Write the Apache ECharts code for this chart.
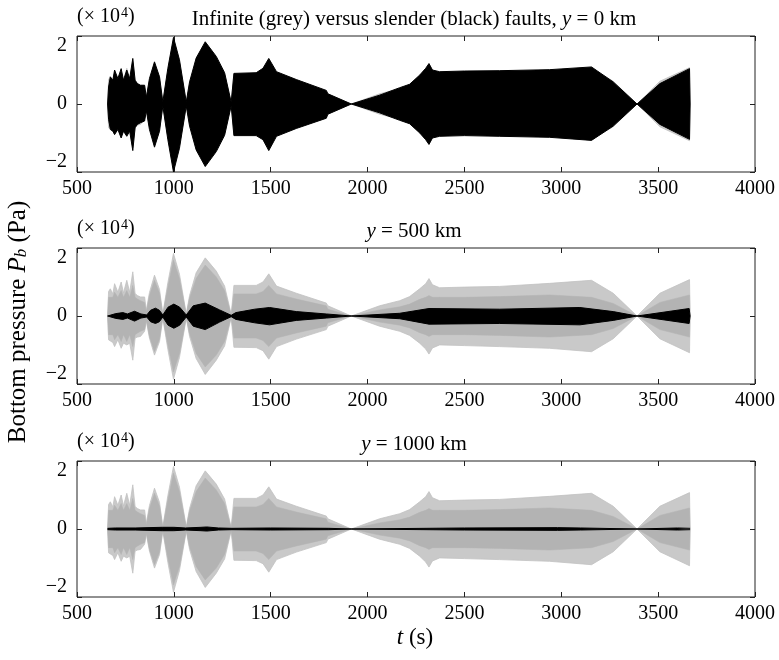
<!DOCTYPE html>
<html>
<head>
<meta charset="utf-8">
<script src="https://cdn.jsdelivr.net/npm/echarts@6/dist/echarts.min.js"></script>
<style>
html,body{margin:0;padding:0;background:#fff;}
#main{width:779px;height:660px;}
</style>
</head>
<body>
<div id="main"></div>
<script>
// infinite fault (grey): envelope of the oscillation, same in all three panels
var tGrey    = [658, 663, 672, 685, 694, 711, 728, 740, 757, 772, 788, 800, 812, 828, 849, 858, 874, 900, 926, 943, 969, 998, 1029, 1064, 1081, 1115, 1162, 1219, 1262, 1296, 1310, 1425, 1460, 1490, 1530, 1632, 1787, 1795, 1805, 1916, 2062, 2166, 2217, 2269, 2300, 2317, 2335, 2372, 2500, 2682, 2940, 3156, 3268, 3391, 3509, 3662, 3665];
var greyUp   = [0, 0.72, 0.8, 0.65, 0.95, 0.7, 1.0, 0.68, 1.05, 0.7, 1.3, 0.66, 0.6, 0.56, 0.56, 0.17, 0.69, 1.2, 0.78, 0.06, 0.98, 1.84, 1.23, 0.06, 0.6, 1.27, 1.71, 1.32, 0.88, 0.05, 0.9, 0.9, 1.0, 1.24, 0.88, 0.67, 0.38, 0.3, 0.27, 0, 0.3, 0.45, 0.57, 0.8, 0.95, 1.1, 0.92, 0.83, 0.85, 0.87, 0.96, 1.05, 0.67, 0, 0.67, 1.07, 0];
var greyLo   = [0, -0.7, -0.72, -0.78, -0.9, -0.7, -0.95, -0.8, -0.85, -0.8, -1.3, -0.65, -0.62, -0.6, -0.45, -0.15, -0.65, -1.15, -0.75, -0.06, -0.98, -1.86, -1.22, -0.06, -0.6, -1.25, -1.72, -1.3, -0.88, -0.05, -0.92, -0.93, -1.02, -1.27, -0.9, -0.68, -0.4, -0.3, -0.27, 0, -0.3, -0.45, -0.57, -0.8, -0.97, -1.12, -0.94, -0.85, -0.87, -0.9, -0.95, -1.05, -0.67, 0, -0.67, -1.08, 0];
// dense inner core of the grey trace (symmetric)
var greyCore = [0, 0.55, 0.6, 0.55, 0.7, 0.55, 0.75, 0.55, 0.75, 0.55, 0.9, 0.55, 0.5, 0.45, 0.4, 0.12, 0.6, 1.05, 0.68, 0.05, 0.85, 1.65, 1.1, 0.05, 0.52, 1.1, 1.5, 1.15, 0.75, 0.03, 0.65, 0.65, 0.72, 0.9, 0.65, 0.5, 0.3, 0.2, 0.18, 0, 0.18, 0.27, 0.35, 0.49, 0.55, 0.6, 0.55, 0.55, 0.55, 0.57, 0.62, 0.55, 0.37, 0, 0.4, 0.62, 0];

// slender fault (black), y = 0 km
var tBlack0  = [658, 663, 672, 685, 694, 711, 728, 740, 757, 772, 788, 800, 812, 828, 849, 858, 874, 900, 926, 943, 969, 998, 1029, 1064, 1081, 1115, 1162, 1219, 1262, 1296, 1310, 1425, 1460, 1490, 1530, 1632, 1787, 1795, 1805, 1916, 2062, 2166, 2217, 2269, 2300, 2317, 2335, 2372, 2500, 2682, 2940, 3156, 3268, 3391, 3509, 3662, 3665];
var black0Up = [0, 0.5, 0.8, 0.7, 1.0, 0.75, 1.04, 0.7, 1.0, 0.75, 1.34, 0.7, 0.6, 0.55, 0.55, 0.2, 0.75, 1.24, 0.8, 0.06, 1.05, 1.96, 1.3, 0.06, 0.65, 1.35, 1.83, 1.4, 0.92, 0.05, 0.9, 0.92, 1.05, 1.34, 0.95, 0.72, 0.4, 0.3, 0.25, 0, 0.26, 0.48, 0.58, 0.85, 1.05, 1.19, 1.0, 0.95, 0.97, 0.98, 1.01, 1.09, 0.65, 0, 0.6, 1.04, 0];
var black0Lo = [0, -0.45, -0.75, -0.8, -0.9, -0.75, -1.0, -0.8, -0.95, -0.8, -1.37, -0.7, -0.6, -0.55, -0.5, -0.2, -0.75, -1.27, -0.8, -0.06, -1.05, -2.0, -1.3, -0.06, -0.65, -1.35, -1.84, -1.4, -0.92, -0.05, -0.93, -0.93, -1.05, -1.37, -0.95, -0.72, -0.42, -0.3, -0.25, 0, -0.26, -0.48, -0.58, -0.85, -1.05, -1.19, -1.0, -0.95, -0.93, -0.95, -0.98, -1.07, -0.65, 0, -0.6, -1.04, 0];

// y = 500 km
var tBlack1  = [658, 664, 700, 737, 760, 797, 830, 860, 880, 905, 925, 943, 970, 1000, 1030, 1064, 1100, 1162, 1236, 1296, 1320, 1417, 1494, 1632, 1787, 1916, 2166, 2317, 2682, 3096, 3268, 3391, 3660, 3665];
var black1Up = [0, 0.05, 0.07, 0.1, 0.06, 0.14, 0.06, 0.03, 0.17, 0.23, 0.17, 0.03, 0.26, 0.35, 0.26, 0.03, 0.3, 0.38, 0.18, 0.02, 0.1, 0.2, 0.25, 0.13, 0.06, 0, 0.08, 0.22, 0.2, 0.25, 0.13, 0, 0.22, 0];
var black1Lo = [0, -0.05, -0.07, -0.1, -0.06, -0.15, -0.06, -0.03, -0.17, -0.22, -0.17, -0.03, -0.27, -0.36, -0.27, -0.03, -0.3, -0.4, -0.18, -0.02, -0.1, -0.2, -0.26, -0.13, -0.06, 0, -0.08, -0.24, -0.22, -0.26, -0.13, 0, -0.22, 0];

// y = 1000 km
var tBlack2  = [658, 700, 800, 940, 1000, 1060, 1140, 1170, 1230, 1300, 1500, 1800, 1916, 2500, 2980, 3100, 3391, 3600, 3665];
var black2Up = [0.02, 0.03, 0.03, 0.05, 0.05, 0.03, 0.05, 0.06, 0.03, 0.02, 0.03, 0.02, 0, 0.03, 0.04, 0.03, 0, 0.03, 0.02];
var black2Lo = [-0.02, -0.03, -0.03, -0.05, -0.05, -0.03, -0.05, -0.06, -0.03, -0.02, -0.03, -0.02, 0, -0.03, -0.04, -0.03, 0, -0.03, -0.02];

var xTicks = [500, 1000, 1500, 2000, 2500, 3000, 3500, 4000];
var yTicks = [-2, 0, 2];
var panelTitles = ['Infinite (grey) versus slender (black) faults, {i|y} = 0 km', '{i|y} = 500 km', '{i|y} = 1000 km'];

var FONT = '"Liberation Serif","Times New Roman",serif';
var tops = [36, 248, 461];
var blackT = [tBlack0, tBlack1, tBlack2];
var blackUp = [black0Up, black1Up, black2Up];
var blackLo = [black0Lo, black1Lo, black2Lo];

function pairs(t, v){
	var out = [];
	for (var k = 0; k < t.length; k++) out.push([t[k], v[k]]);
	return out;
}
function band(t, v, fill, edge, edgeW, xi, yi, z){
	return {
		type: 'line', xAxisIndex: xi, yAxisIndex: yi,
		data: pairs(t, v),
		symbol: 'none', showSymbol: false, silent: true, z: z,
		lineStyle: {width: edgeW, color: edge},
		areaStyle: {color: fill, opacity: 1, origin: 'auto'}
	};
}

var grids = [], xAxes = [], yAxes = [], series = [], graphics = [];
var coreLo = greyCore.map(function(v){ return -v; });

for (var i = 0; i < 3; i++){
	grids.push({left: 77, width: 678, top: tops[i], height: 136, show: true,
		borderColor: '#222', borderWidth: 1, backgroundColor: 'transparent'});
	['bottom', 'top'].forEach(function(pos){
		xAxes.push({
			gridIndex: i, type: 'value', position: pos,
			min: xTicks[0], max: xTicks[xTicks.length - 1], interval: 500,
			axisLine: {show: false, onZero: false},
			axisTick: {inside: true, length: 5, lineStyle: {color: '#222'}},
			axisLabel: {show: pos == 'bottom', fontFamily: FONT, fontSize: 20, color: '#000', margin: 7,
				formatter: function(v){ return String(v); }},
			splitLine: {show: false}
		});
	});
	['left', 'right'].forEach(function(pos){
		yAxes.push({
			gridIndex: i, type: 'value', position: pos,
			min: yTicks[0], max: yTicks[yTicks.length - 1], interval: 2,
			axisLine: {show: false, onZero: false},
			axisTick: {inside: true, length: 5, lineStyle: {color: '#222'}},
			axisLabel: {show: pos == 'left', fontFamily: FONT, fontSize: 20, color: '#000', margin: 10,
				verticalAlignMinLabel: 'bottom', verticalAlignMaxLabel: 'top',
				formatter: function(v){ return String(v).replace('-', '\u2212'); }},
			splitLine: {show: false}
		});
	});
	var xi = 2 * i, yi = 2 * i;
	series.push(band(tGrey, greyUp, '#c9c9c9', '#c2c2c2', 0.8, xi, yi, 2));
	series.push(band(tGrey, greyLo, '#c9c9c9', '#c2c2c2', 0.8, xi, yi, 2));
	series.push(band(tGrey, greyCore, '#b3b3b3', '#b3b3b3', 0.5, xi, yi, 3));
	series.push(band(tGrey, coreLo, '#b3b3b3', '#b3b3b3', 0.5, xi, yi, 3));
	series.push(band(blackT[i], blackUp[i], '#000', '#000', 1, xi, yi, 4));
	series.push(band(blackT[i], blackLo[i], '#000', '#000', 1, xi, yi, 4));

	graphics.push({
		type: 'text', left: 77, top: tops[i] - 30,
		style: {text: '(\u00d7 10{s|4})', font: '20px ' + FONT, fill: '#000',
			rich: {s: {font: '14px ' + FONT, verticalAlign: 'bottom', padding: [0, 0, 8, 1]}}}
	});
	graphics.push({
		type: 'text', x: 414, y: tops[i] - 17,
		style: {text: panelTitles[i], font: '21px ' + FONT, fill: '#000',
			textAlign: 'center', textVerticalAlign: 'middle',
			rich: {i: {font: 'italic 21px ' + FONT}}}
	});
}

graphics.push({
	type: 'text', x: 18, y: 322, rotation: Math.PI / 2,
	style: {text: 'Bottom pressure {i|P}{b|b} (Pa)', font: '25px ' + FONT, fill: '#000',
		textAlign: 'center', textVerticalAlign: 'middle',
		rich: {i: {font: 'italic 25px ' + FONT}, b: {font: 'italic 17px ' + FONT, verticalAlign: 'bottom'}}}
});
graphics.push({
	type: 'text', x: 415, y: 638,
	style: {text: '{i|t} (s)', font: '23px ' + FONT, fill: '#000',
		textAlign: 'center', textVerticalAlign: 'middle',
		rich: {i: {font: 'italic 23px ' + FONT}}}
});

var myChart = echarts.init(document.getElementById('main'));
myChart.setOption({
	animation: false,
	backgroundColor: '#fff',
	grid: grids,
	xAxis: xAxes,
	yAxis: yAxes,
	series: series,
	graphic: graphics
});
</script>
</body>
</html>
